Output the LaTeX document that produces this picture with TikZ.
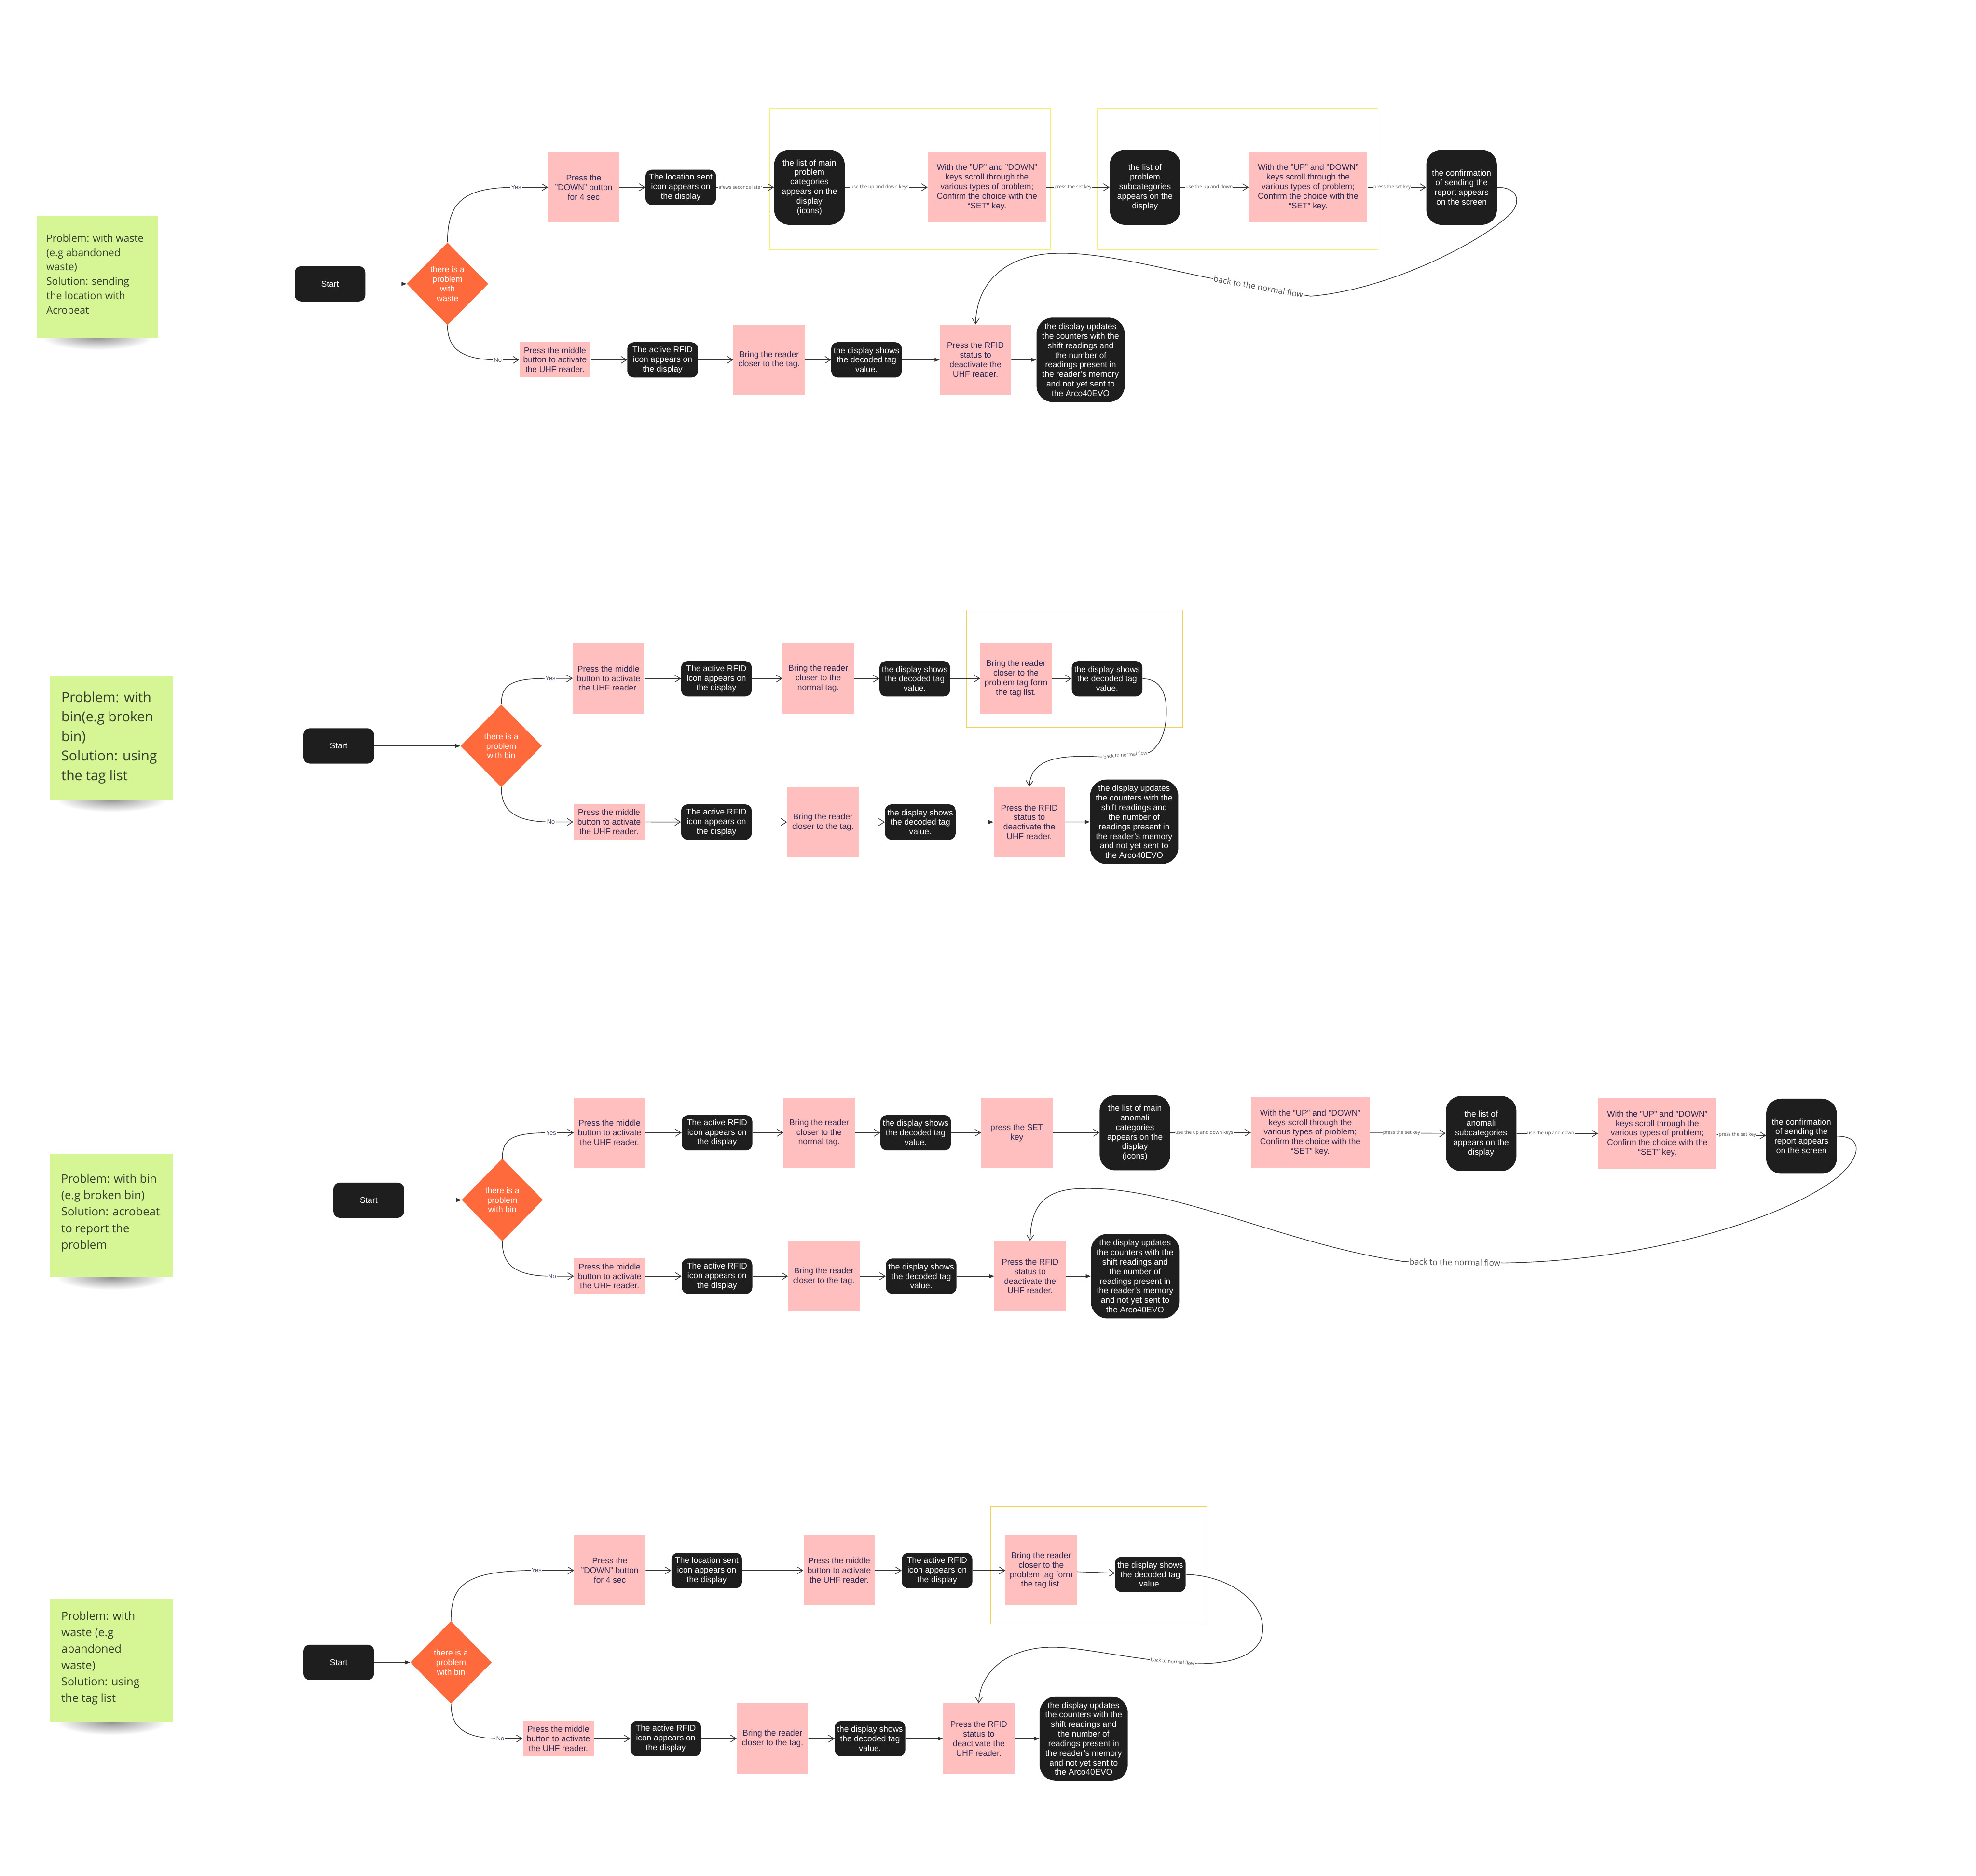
\documentclass[tikz,border=0pt]{standalone}
\usepackage{fontspec}
\setmainfont{Liberation Sans}
\newfontfamily\notefont{Open Sans}
\usetikzlibrary{positioning,arrows.meta,shapes.geometric}

\definecolor{boxblack}{HTML}{1E1E1E}
\definecolor{boxpink}{HTML}{FFBFBF}
\definecolor{pinktext}{HTML}{2E2853}
\definecolor{decorange}{HTML}{FF6A3D}
\definecolor{notegreen}{HTML}{D6F595}
\definecolor{notetext}{HTML}{343D2C}
\definecolor{framelight}{HTML}{F6EE74}
\definecolor{framegold}{HTML}{F0D25E}
\definecolor{flowgray}{HTML}{333333}
\definecolor{lblgray}{HTML}{555555}
\definecolor{yngray}{HTML}{4B4A68}

\newcommand*{\boxfont}{\fontsize{9.4}{10.8}\selectfont}
\newcommand*{\keyfont}{\notefont\fontsize{5.4}{6}\selectfont}

\tikzset{
  blk/.style={rectangle, rounded corners=2.5mm, fill=boxblack, text=white,
    align=center, font=\boxfont, inner sep=0.6mm,
    minimum width=28mm, minimum height=14mm},
  blktall/.style={blk, rounded corners=6mm, minimum height=29.75mm},
  blkbig/.style={blk, rounded corners=6.5mm, minimum width=35mm, minimum height=33.5mm},
  pnk/.style={rectangle, fill=boxpink, text=pinktext, align=center,
    font=\boxfont, inner sep=0.6mm, minimum width=28.3mm, minimum height=27.8mm},
  pnkflat/.style={pnk, minimum height=14mm},
  pnkwide/.style={pnk, minimum width=47mm, minimum height=28mm},
  decision/.style={diamond, fill=decorange, text=white, align=center,
    font=\boxfont, inner sep=0pt, minimum width=32.3mm, minimum height=32.8mm},
  sticky/.style={rectangle, fill=notegreen, minimum width=48.8mm, minimum height=48.9mm},
  notetxt/.style={anchor=west, align=left, text=notetext, inner sep=0pt},
  hilite/.style={draw=framelight, line width=0.8pt},
  flow/.style={draw=flowgray, line width=0.75pt,
    -{Straight Barb[length=2.2mm,width=2.8mm]}},
  flowfill/.style={draw=flowgray, line width=0.75pt,
    -{Triangle[length=2mm,width=1.5mm]}},
  keylbl/.style={font=\keyfont, text=lblgray, fill=white, inner sep=0.6pt},
  yn/.style={font=\fontsize{7}{8}\selectfont, text=yngray, fill=white, inner sep=0.8pt},
  backlbl/.style={font=\notefont\fontsize{9.3}{10}\selectfont, text=lblgray,
    fill=white, inner sep=1pt},
  backsmall/.style={backlbl, font=\keyfont},
}

\begin{document}
\begin{tikzpicture}[x=0.5mm,y=-0.5mm]
\useasboundingbox (0,0) rectangle (1568,1488);

% Shadows under the sticky notes
\shade[inner color=gray!85, outer color=white] (77.3,267.7) ellipse [x radius=22mm, y radius=5mm];
\shade[inner color=gray!85, outer color=white] (88.5,634.2) ellipse [x radius=22mm, y radius=5mm];
\shade[inner color=gray!85, outer color=white] (88.6,1013.4) ellipse [x radius=22mm, y radius=5mm];
\shade[inner color=gray!85, outer color=white] (88.5,1366.4) ellipse [x radius=22mm, y radius=5mm];

% Sticky notes
\node[sticky, minimum width=48.3mm, minimum height=48.4mm] (note1) at (77.3,219.4) {};
\node[notetxt, font=\notefont\fontsize{11.5}{16.2}\selectfont] (text1)
  at ([xshift=3.9mm,yshift=1mm]note1.west) {Problem: with waste\\(e.g abandoned\\waste)\\Solution: sending\\the location with\\Acrobeat};
\node[sticky] (note2) at (88.5,585.3) {};
\node[notetxt, font=\notefont\fontsize{15.5}{22}\selectfont] (text2)
  at ([xshift=4.5mm]note2.west) {Problem: with\\bin(e.g broken\\bin)\\Solution: using\\the tag list};
\node[sticky] (note3) at (88.6,964.2) {};
\node[notetxt, font=\notefont\fontsize{13}{18.7}\selectfont] (text3)
  at ([xshift=4.4mm,yshift=1mm]note3.west) {Problem: with bin\\(e.g broken bin)\\Solution: acrobeat\\to report the\\problem};
\node[sticky] (note4) at (88.5,1317.5) {};
\node[notetxt, font=\notefont\fontsize{12.7}{18.5}\selectfont] (text4)
  at ([xshift=4.5mm,yshift=1mm]note4.west) {Problem: with\\waste (e.g\\abandoned\\waste)\\Solution: using\\the tag list};

% ---------------- Flow 1: problem with waste, Acrobeat ----------------
\draw[hilite] (610.5,86.1) rectangle (833.6,198);
\draw[hilite] (870.7,86.1) rectangle (1093.4,198);
\node[blk] (start1) at (261.9,225.2) {Start};
\node[decision] (dec1) at (355.1,225.2) {there is a\\problem\\with\\waste};
\node[pnk] (down1) at (463.2,148.6) {Press the\\"DOWN" button\\for 4 sec};
\node[blk] (sent1) at (540.2,148.6) {The location sent\\icon appears on\\the display};
\node[blktall] (cat1) at (642.3,148.6) {the list of main\\problem\\categories\\appears on the\\display\\(icons)};
\node[pnkwide] (scroll1a) at (783.2,148.6) {With the "UP" and "DOWN"\\keys scroll through the\\various types of problem;\\Confirm the choice with the\\“SET” key.};
\node[blktall] (sub1) at (908.6,148.6) {the list of\\problem\\subcategories\\appears on the\\display};
\node[pnkwide] (scroll1b) at (1038,148.6) {With the "UP" and "DOWN"\\keys scroll through the\\various types of problem;\\Confirm the choice with the\\“SET” key.};
\node[blktall] (conf1) at (1159.8,148.6) {the confirmation\\of sending the\\report appears\\on the screen};
\node[pnkflat] (mid1) at (440.4,285.5) {Press the middle\\button to activate\\the UHF reader.};
\node[blk] (rfid1) at (525.8,285.5) {The active RFID\\icon appears on\\the display};
\node[pnk] (bring1) at (610.3,285.4) {Bring the reader\\closer to the tag.};
\node[blk] (shows1) at (687.6,285.5) {the display shows\\the decoded tag\\value.};
\node[pnk] (status1) at (774.1,285.4) {Press the RFID\\status to\\deactivate the\\UHF reader.};
\node[blkbig] (update1) at (857.5,285.5) {the display updates\\the counters with the\\shift readings and\\the number of\\readings present in\\the reader's memory\\and not yet sent to\\the Arco40EVO};

\draw[flowfill] (start1) -- (dec1);
\draw[flow] (dec1.north) .. controls (355.1,160) and (368,148.6) .. (409.6,148.6)
  node[yn] {Yes} -- (down1.west);
\draw[flow] (dec1.south) .. controls (355.1,277) and (367,285.5) .. (395,285.5)
  node[yn] {No} -- (mid1.west);
\draw[flow] (down1) -- (sent1);
\draw[flow] (sent1) -- node[keylbl,pos=.42] {afews seconds later} (cat1);
\draw[flow] (cat1) -- node[keylbl,pos=.42] {use the up and down keys} (scroll1a);
\draw[flow] (scroll1a) -- node[keylbl,pos=.42] {press the set key} (sub1);
\draw[flow] (sub1) -- node[keylbl,pos=.42] {use the up and down} (scroll1b);
\draw[flow] (scroll1b) -- node[keylbl,pos=.42] {press the set key} (conf1);
\foreach \a/\b in {mid1/rfid1, rfid1/bring1, bring1/shows1}
  \draw[flow] (\a) -- (\b);
\draw[flowfill] (shows1) -- (status1);
\draw[flowfill] (status1) -- (update1);
% back to the normal flow
\draw[flow] (conf1.east) .. controls (1206,148.6) and (1208,162) .. (1196,172)
  .. controls (1170,195) and (1100,230) .. (1040,235)
  -- node[backlbl,sloped] {back to the normal flow} (957,220)
  .. controls (910,210) and (870,200) .. (838,201)
  .. controls (800,202) and (775,222) .. (status1.north);

% ---------------- Flow 2: problem with bin, tag list ----------------
\draw[hilite, draw=framegold] (766.8,484) rectangle (938.4,577.3);
\node[blk] (start2) at (268.8,591.8) {Start};
\node[decision] (dec2) at (397.8,591.8) {there is a\\problem\\with bin};
\node[pnk] (mid2a) at (482.9,538.2) {Press the middle\\button to activate\\the UHF reader.};
\node[blk] (rfid2a) at (568.5,538.5) {The active RFID\\icon appears on\\the display};
\node[pnk] (normal2) at (649.3,538.2) {Bring the reader\\closer to the\\normal tag.};
\node[blk] (shows2a) at (725.9,538.5) {the display shows\\the decoded tag\\value.};
\node[pnk] (prob2) at (806.2,538.2) {Bring the reader\\closer to the\\problem tag form\\the tag list.};
\node[blk] (shows2b) at (878.5,538.5) {the display shows\\the decoded tag\\value.};
\node[pnkflat] (mid2b) at (483.3,652.1) {Press the middle\\button to activate\\the UHF reader.};
\node[blk] (rfid2b) at (568.5,652.2) {The active RFID\\icon appears on\\the display};
\node[pnk] (bring2) at (653,652.2) {Bring the reader\\closer to the tag.};
\node[blk] (shows2c) at (730.3,652.2) {the display shows\\the decoded tag\\value.};
\node[pnk] (status2) at (816.8,652.2) {Press the RFID\\status to\\deactivate the\\UHF reader.};
\node[blkbig] (update2) at (900,652) {the display updates\\the counters with the\\shift readings and\\the number of\\readings present in\\the reader's memory\\and not yet sent to\\the Arco40EVO};

\draw[flowfill] (start2) -- (dec2);
\draw[flow] (dec2.north) .. controls (397.8,542) and (407,538.2) .. (436.8,538.2)
  node[yn] {Yes} -- (mid2a.west);
\draw[flow] (dec2.south) .. controls (397.8,642) and (407,652.1) .. (437.2,652.1)
  node[yn] {No} -- (mid2b.west);
\foreach \a/\b in {mid2a/rfid2a, rfid2a/normal2, normal2/shows2a, shows2a/prob2,
    prob2/shows2b, mid2b/rfid2b, rfid2b/bring2, bring2/shows2c}
  \draw[flow] (\a) -- (\b);
\draw[flowfill] (shows2c) -- (status2);
\draw[flowfill] (status2) -- (update2);
% back to normal flow
\draw[flow] (shows2b.east) .. controls (922,538.5) and (926,552) .. (925.5,566.5)
  .. controls (925,582) and (920,592) .. (912,597)
  -- node[backsmall,sloped] {back to normal flow} (874,600.5)
  .. controls (845,599) and (818,600) .. (status2.north);

% ---------------- Flow 3: problem with bin, Acrobeat ----------------
\node[blk] (start3) at (292.6,952.2) {Start};
\node[decision] (dec3) at (398.6,952) {there is a\\problem\\with bin};
\node[pnk] (mid3a) at (483.7,898.7) {Press the middle\\button to activate\\the UHF reader.};
\node[blk] (rfid3a) at (569,898.7) {The active RFID\\icon appears on\\the display};
\node[pnk] (normal3) at (650,898.7) {Bring the reader\\closer to the\\normal tag.};
\node[blk] (shows3a) at (726.6,898.7) {the display shows\\the decoded tag\\value.};
\node[pnk] (set3) at (806.9,898.7) {press the SET\\key};
\node[blktall] (cat3) at (900.6,898.7) {the list of main\\anomali\\categories\\appears on the\\display\\(icons)};
\node[pnkwide] (scroll3a) at (1039.7,898.6) {With the "UP" and "DOWN"\\keys scroll through the\\various types of problem;\\Confirm the choice with the\\“SET” key.};
\node[blktall] (sub3) at (1175.3,899.3) {the list of\\anomali\\subcategories\\appears on the\\display};
\node[pnkwide] (scroll3b) at (1315.1,899.4) {With the "UP" and "DOWN"\\keys scroll through the\\various types of problem;\\Confirm the choice with the\\“SET” key.};
\node[blktall] (conf3) at (1429.5,901.4) {the confirmation\\of sending the\\report appears\\on the screen};
\node[pnkflat] (mid3b) at (483.8,1012.5) {Press the middle\\button to activate\\the UHF reader.};
\node[blk] (rfid3b) at (569,1012.5) {The active RFID\\icon appears on\\the display};
\node[pnk] (bring3) at (653.7,1012.5) {Bring the reader\\closer to the tag.};
\node[blk] (shows3c) at (731,1012.5) {the display shows\\the decoded tag\\value.};
\node[pnk] (status3) at (817.4,1012.5) {Press the RFID\\status to\\deactivate the\\UHF reader.};
\node[blkbig] (update3) at (900.7,1012.5) {the display updates\\the counters with the\\shift readings and\\the number of\\readings present in\\the reader's memory\\and not yet sent to\\the Arco40EVO};

\draw[flowfill] (start3) -- (dec3);
\draw[flow] (dec3.north) .. controls (398.6,903) and (407,898.7) .. (437.3,898.7)
  node[yn] {Yes} -- (mid3a.west);
\draw[flow] (dec3.south) .. controls (398.6,1003) and (408,1012.5) .. (438.1,1012.5)
  node[yn] {No} -- (mid3b.west);
\foreach \a/\b in {mid3a/rfid3a, rfid3a/normal3, normal3/shows3a, shows3a/set3,
    set3/cat3, mid3b/rfid3b, rfid3b/bring3, bring3/shows3c}
  \draw[flow] (\a) -- (\b);
\draw[flow] (cat3) -- node[keylbl,pos=.42] {use the up and down keys} (scroll3a);
\draw[flow] (scroll3a) -- node[keylbl,pos=.42] {press the set key} (sub3);
\draw[flow] (sub3) -- node[keylbl,pos=.42] {use the up and down} (scroll3b);
\draw[flow] (scroll3b) -- node[keylbl,pos=.42] {press the set key} (conf3);
\draw[flowfill] (shows3c) -- (status3);
\draw[flowfill] (status3) -- (update3);
% back to the normal flow
\draw[flow] (conf3.east) .. controls (1478,901.4) and (1478,917) .. (1458,934)
  .. controls (1418,966) and (1310,1000) .. (1194,1002)
  -- node[backlbl,sloped] {back to the normal flow} (1115,1001)
  .. controls (1020,988) and (930,940) .. (857,943)
  .. controls (830,944) and (818,955) .. (status3.north);

% ---------------- Flow 4: problem with waste, tag list ----------------
\draw[hilite, draw=framegold] (786,1195.1) rectangle (957.6,1288.3);
\node[blk] (start4) at (268.8,1318.9) {Start};
\node[decision] (dec4) at (357.9,1318.9) {there is a\\problem\\with bin};
\node[pnk] (down4) at (483.9,1245.9) {Press the\\"DOWN" button\\for 4 sec};
\node[blk] (sent4) at (560.8,1246) {The location sent\\icon appears on\\the display};
\node[pnk] (mid4a) at (665.9,1245.9) {Press the middle\\button to activate\\the UHF reader.};
\node[blk] (rfid4a) at (743.6,1246) {The active RFID\\icon appears on\\the display};
\node[pnk] (prob4) at (826.2,1245.9) {Bring the reader\\closer to the\\problem tag form\\the tag list.};
\node[blk] (shows4b) at (912.8,1249.1) {the display shows\\the decoded tag\\value.};
\node[pnkflat] (mid4b) at (443.1,1379.3) {Press the middle\\button to activate\\the UHF reader.};
\node[blk] (rfid4b) at (528.3,1379.3) {The active RFID\\icon appears on\\the display};
\node[pnk] (bring4) at (613,1379.3) {Bring the reader\\closer to the tag.};
\node[blk] (shows4c) at (690.4,1379.4) {the display shows\\the decoded tag\\value.};
\node[pnk] (status4) at (776.7,1379.3) {Press the RFID\\status to\\deactivate the\\UHF reader.};
\node[blkbig] (update4) at (859.9,1379.4) {the display updates\\the counters with the\\shift readings and\\the number of\\readings present in\\the reader's memory\\and not yet sent to\\the Arco40EVO};

\draw[flowfill] (start4) -- (dec4);
\draw[flow] (dec4.north) .. controls (357.9,1258) and (368,1245.9) .. (425.8,1245.9)
  node[yn] {Yes} -- (down4.west);
\draw[flow] (dec4.south) .. controls (357.9,1370) and (368,1379.3) .. (397,1379.3)
  node[yn] {No} -- (mid4b.west);
\foreach \a/\b in {down4/sent4, sent4/mid4a, mid4a/rfid4a, rfid4a/prob4,
    prob4/shows4b, mid4b/rfid4b, rfid4b/bring4, bring4/shows4c}
  \draw[flow] (\a) -- (\b);
\draw[flowfill] (shows4c) -- (status4);
\draw[flowfill] (status4) -- (update4);
% back to normal flow
\draw[flow] (shows4b.east) .. controls (975,1250) and (1002,1270) .. (1002,1292)
  .. controls (1002,1312) and (980,1320) .. (950,1320)
  -- node[backsmall,sloped] {back to normal flow} (911,1316.5)
  .. controls (870,1311) and (850,1306) .. (830,1307)
  .. controls (795,1309) and (777,1330) .. (status4.north);
\end{tikzpicture}
\end{document}
